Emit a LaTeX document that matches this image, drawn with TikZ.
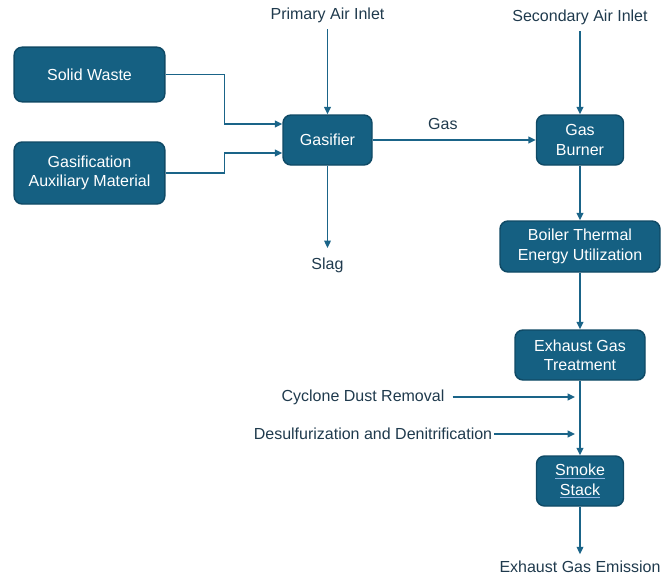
\documentclass[tikz,border=0pt]{standalone}
\usepackage{fontspec}
\setmainfont{Liberation Sans}
\usetikzlibrary{arrows.meta,positioning,calc}

\definecolor{boxblue}{HTML}{156082}
\definecolor{boxedge}{HTML}{0F4A66}
\definecolor{flowblue}{HTML}{1A6488}
\definecolor{labelgray}{HTML}{1F3A4D}
\definecolor{linkblue}{HTML}{8FB4E0}

\newcommand{\stackul}[1]{\setbox0\hbox{#1}\rlap{\textcolor{linkblue}{\rule[-2.2pt]{\wd0}{0.7pt}}}\box0}

\tikzset{
  stepbox/.style={draw=boxedge, fill=boxblue, line width=1.1pt, rounded corners=6pt, text=white, align=center, inner sep=2pt},
  flow/.style={draw=flowblue, line width=1.1pt, -{Triangle[length=5.5pt,width=5pt]}},
  tag/.style={text=labelgray, inner sep=1pt}
}

\begin{document}
\begin{tikzpicture}[x=0.75pt, y=-0.75pt, font=\fontsize{12}{14.5}\selectfont]
\useasboundingbox (0,0) rectangle (661,578);

% Feed boxes
\node[stepbox, minimum width=113pt, minimum height=41pt] (waste) at (89.5,74.5) {Solid Waste};
\node[stepbox, minimum width=113pt, minimum height=46.5pt] (aux) at (89.5,173) {Gasification\\Auxiliary Material};

% Gasifier
\node[stepbox, minimum width=66.75pt, minimum height=37.5pt] (gasifier) at (327.5,140) {Gasifier};
\node[tag] (primary) at (327.5,15) {Primary Air Inlet};
\node[tag] (slag) at (327.5,265) {Slag};

% Burner line
\node[stepbox, minimum width=65.25pt, minimum height=37.5pt] (burner) at (580,140) {Gas\\Burner};
\node[tag] (secondary) at (580,17) {Secondary Air Inlet};
\node[stepbox, minimum width=120pt, minimum height=38.25pt] (boiler) at (580,246.5) {Boiler Thermal\\Energy Utilization};
\node[stepbox, minimum width=97.5pt, minimum height=37.5pt] (treat) at (580,355) {Exhaust Gas\\Treatment};
\node[stepbox, minimum width=65.25pt, minimum height=37.5pt] (stack) at (580,481) {\stackul{Smoke}\\\stackul{Stack}};
\node[tag] (emission) at (580,567) {Exhaust Gas Emission};

% Side inputs
\node[tag] (cyclone) at (363,397) {Cyclone Dust Removal};
\node[tag] (desulf) at (373,434) {Desulfurization and Denitrification};
\coordinate (cyc-in) at (575,397);
\coordinate (des-in) at (575,434);

% Connectors
\draw[flow] (waste.east) -- ++(59,0) |- ([yshift=12pt]gasifier.west);
\draw[flow] (aux.east) -- ++(59,0) |- ([yshift=-9.75pt]gasifier.west);
\draw[flow, shorten <=4pt] (primary) -- (gasifier);
\draw[flow, shorten >=6pt] (gasifier) -- (slag);
\draw[flow] (gasifier) -- node[tag, above=6pt, pos=0.43] (gaslabel) {Gas} (burner);
\draw[flow, shorten <=4pt] (secondary) -- (burner);
\draw[flow] (burner) -- (boiler);
\draw[flow] (boiler) -- (treat);
\draw[flow] (treat) -- (stack);
\draw[flow, shorten >=4pt] (stack) -- (emission);
\draw[flow, shorten <=5pt] (cyclone) -- (cyc-in);
\draw[flow] (desulf) -- (des-in);
\end{tikzpicture}
\end{document}
